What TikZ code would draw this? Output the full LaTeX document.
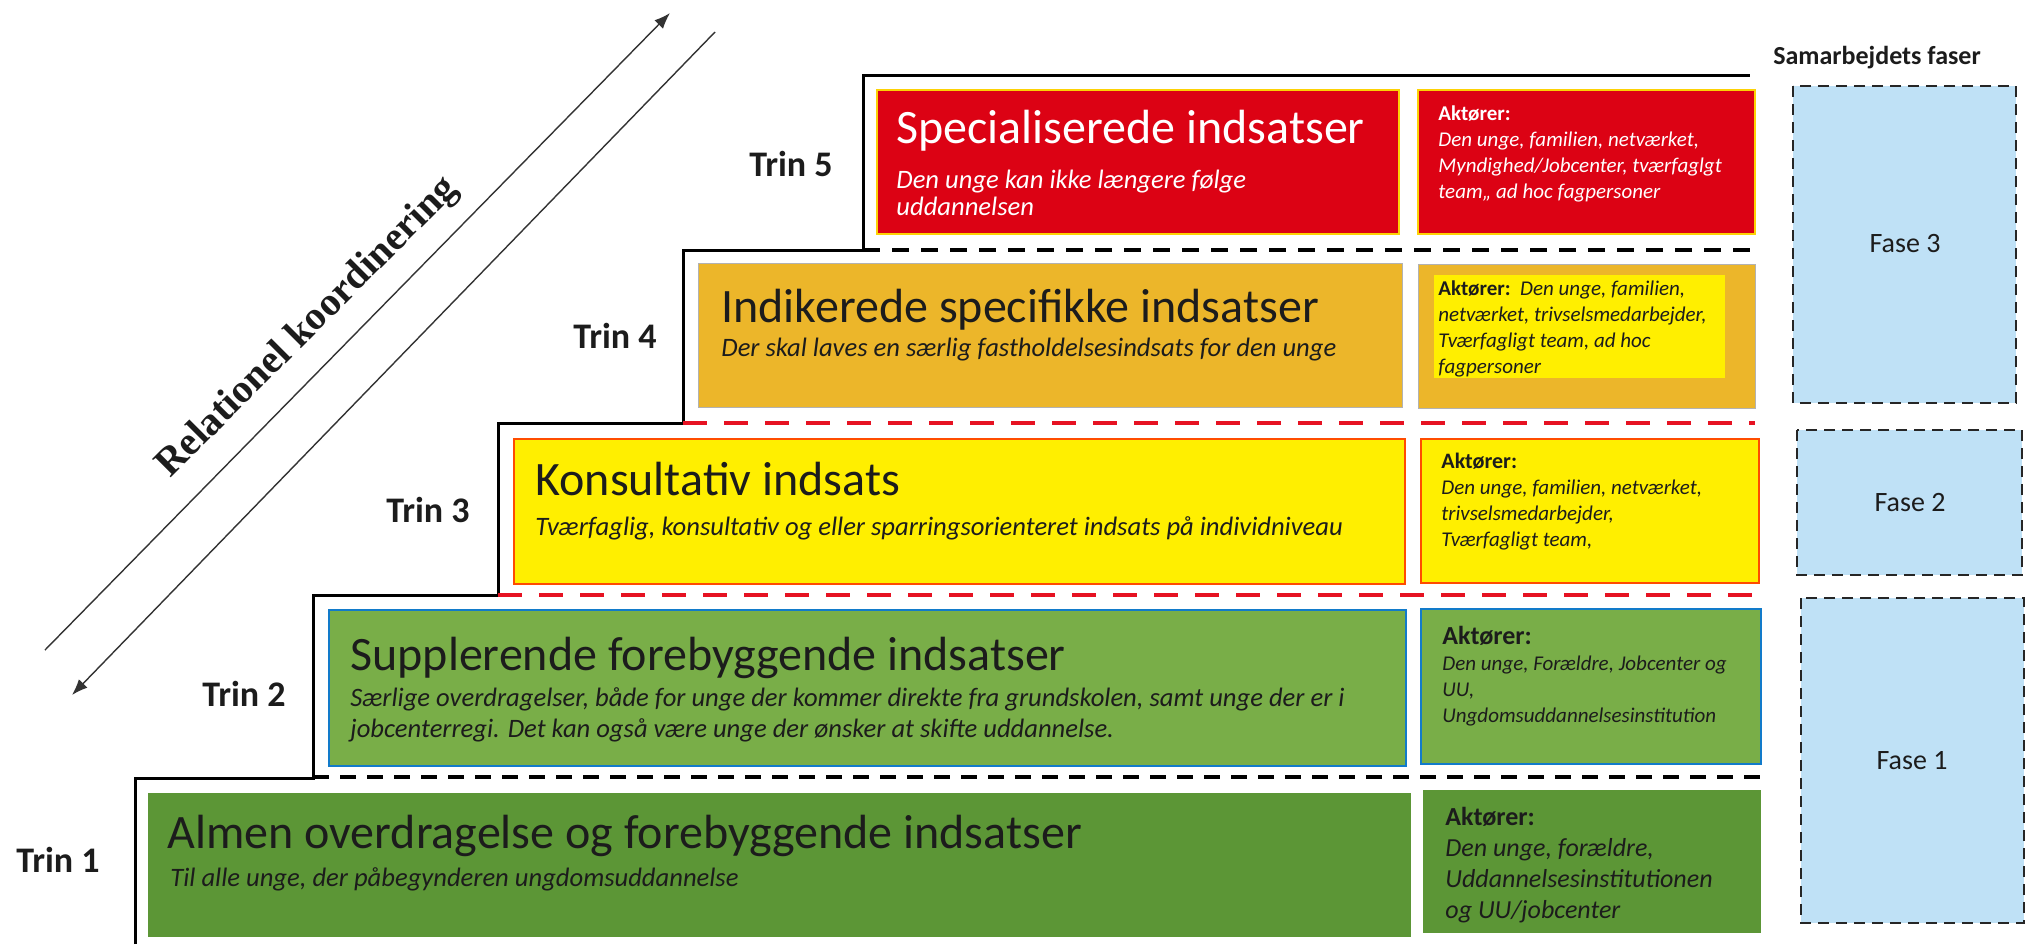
\documentclass[tikz,border=0pt]{standalone}
\usepackage{fontspec}
\setmainfont{Carlito}
\newfontfamily\rkserif{Liberation Serif}
\usetikzlibrary{arrows.meta}

\definecolor{trinred}{RGB}{220,2,20}
\definecolor{trinorange}{RGB}{236,182,42}
\definecolor{trinyellow}{RGB}{255,239,0}
\definecolor{tringreen}{RGB}{121,174,72}
\definecolor{trindark}{RGB}{92,150,54}
\definecolor{faseblue}{RGB}{191,225,246}
\definecolor{cutred}{RGB}{230,18,34}
\definecolor{inkgray}{RGB}{28,28,28}

\newcommand{\aktorer}{\textup{\bfseries Akt\o rer:}}

\tikzset{
	stairline/.style={line width=1.5pt, line join=miter},
	blackcut/.style={line width=2pt, dash pattern=on 8.5pt off 6pt},
	redcut/.style={cutred, line width=2.2pt, dash pattern=on 12pt off 8.5pt},
	fasebox/.style={fill=faseblue, draw=black!85, line width=1.1pt, dash pattern=on 5.5pt off 3.5pt},
	boxtitle/.style={anchor=base west, inner sep=0pt, text=inkgray, font=\fontsize{24}{28}\selectfont},
	boxsub/.style={anchor=base west, inner sep=0pt, align=left, text=inkgray, font=\fontsize{13.3}{16}\selectfont\itshape},
	actors/.style={anchor=base west, inner sep=0pt, align=left, text=inkgray, font=\fontsize{10.5}{13}\selectfont\itshape},
	trinlabel/.style={anchor=base, inner sep=0pt, text=inkgray, font=\fontsize{18}{20}\selectfont\bfseries},
	fasetext/.style={inner sep=0pt, text=inkgray, font=\fontsize{14}{16}\selectfont},
	rkarrow/.style={draw=black!80, line width=0.7pt, -{Latex[length=8pt,width=6pt]}}
}

\begin{document}
\begin{tikzpicture}[x=0.5pt,y=-0.5pt]
	\useasboundingbox (0,0) rectangle (2027,944);
	\fill[white] (0,0) rectangle (2027,944);

	\draw[stairline] (135,944) -- (135,778) -- (313,778) -- (313,595) -- (498,595) -- (498,423) -- (683,423) -- (683,250) -- (863,250) -- (863,75) -- (1750,75);
	\draw[blackcut] (863,250) -- (1755,250);
	\draw[redcut] (683,423) -- (1755,423);
	\draw[redcut] (498,595) -- (1759,595);
	\draw[blackcut, line width=1.6pt, dash pattern=on 8pt off 5.5pt] (313,777) -- (1761,777);

	\draw[fill=trinred, draw=yellow!70!orange, line width=0.8pt] (877,90) rectangle (1399,234);
	\draw[fill=trinred, draw=yellow!70!orange, line width=0.8pt] (1418,90) rectangle (1755,234);
	\draw[fill=trinorange, draw=black!30, line width=0.5pt] (698,263) rectangle (1402,407);
	\draw[fill=trinorange, draw=black!30, line width=0.5pt] (1418,264) rectangle (1755,408);
	\fill[trinyellow] (1434,275) rectangle (1725,378);
	\draw[fill=trinyellow, draw=orange!60!red, line width=0.8pt] (514,439) rectangle (1405,584);
	\draw[fill=trinyellow, draw=orange!60!red, line width=0.8pt] (1421,439) rectangle (1759,583);
	\draw[fill=tringreen, draw=cyan!60!blue, line width=0.8pt] (329,610) rectangle (1406,766);
	\draw[fill=tringreen, draw=cyan!60!blue, line width=0.8pt] (1421,609) rectangle (1761,764);
	\fill[trindark] (148,793) rectangle (1411,937);
	\fill[trindark] (1423,790) rectangle (1761,933);

	\draw[fasebox] (1793,86) rectangle (2016,403);
	\draw[fasebox] (1797,430) rectangle (2022,575);
	\draw[fasebox] (1801,598) rectangle (2024,923);

	\node[boxtitle, text=white] (title5) at (896,143) {Specialiserede indsatser};
	\node[boxsub, text=white, font=\fontsize{13.3}{13.5}\selectfont\itshape] (sub5) at (896,215) {Den unge kan ikke l\ae ngere f\o lge\\uddannelsen};
	\node[boxtitle] (title4) at (721,322) {Indikerede specifikke indsatser};
	\node[boxsub] (sub4) at (721,356) {Der skal laves en s\ae rlig fastholdelsesindsats for den unge};
	\node[boxtitle] (title3) at (535,495) {Konsultativ indsats};
	\node[boxsub] (sub3) at (535,535) {Tv\ae rfaglig, konsultativ og eller sparringsorienteret indsats p\aa{} individniveau};
	\node[boxtitle] (title2) at (350,670) {Supplerende forebyggende indsatser};
	\node[boxsub, font=\fontsize{13.3}{15.5}\selectfont\itshape] (sub2) at (350,737) {S\ae rlige overdragelser, b\aa de for unge der kommer direkte fra grundskolen, samt unge der er i\\jobcenterregi. Det kan ogs\aa{} v\ae re unge der \o nsker at skifte uddannelse.};
	\node[boxtitle] (title1) at (167,848) {Almen overdragelse og forebyggende indsatser};
	\node[boxsub] (sub1) at (170,886) {Til alle unge, der p\aa begynderen ungdomsuddannelse};

	\node[actors, text=white] (akt5) at (1438,198) {\aktorer\\Den unge, familien, netv\ae rket,\\Myndighed/Jobcenter, tv\ae rfaglgt\\team,, ad hoc fagpersoner};
	\node[actors] (akt4) at (1438,373) {\aktorer\ \ Den unge, familien,\\netv\ae rket, trivselsmedarbejder,\\Tv\ae rfagligt team, ad hoc\\fagpersoner};
	\node[actors] (akt3) at (1441,546) {{\fontsize{11}{13}\selectfont\aktorer}\\Den unge, familien, netv\ae rket,\\trivselsmedarbejder,\\Tv\ae rfagligt team,};
	\node[actors] (akt2) at (1442,722) {{\fontsize{13}{13}\selectfont\aktorer}\\Den unge, For\ae ldre, Jobcenter og\\UU,\\Ungdomsuddannelsesinstitution};
	\node[actors, font=\fontsize{13}{15.5}\selectfont\itshape] (akt1) at (1445,918) {\aktorer\\Den unge, for\ae ldre,\\Uddannelsesinstitutionen\\og UU/jobcenter};

	\node[trinlabel] (trin5) at (791,176) {Trin 5};
	\node[trinlabel] (trin4) at (615,348) {Trin 4};
	\node[trinlabel] (trin3) at (428,522) {Trin 3};
	\node[trinlabel] (trin2) at (244,706) {Trin 2};
	\node[trinlabel] (trin1) at (58,872) {Trin 1};

	\node[anchor=base, inner sep=0pt, text=inkgray, font=\fontsize{13}{14}\selectfont\bfseries] (faser) at (1877,64) {Samarbejdets faser};
	\node[fasetext] (fase3) at (1905,244) {Fase 3};
	\node[fasetext] (fase2) at (1910,503) {Fase 2};
	\node[fasetext] (fase1) at (1912,761) {Fase 1};

	\coordinate (rkup1) at (45,650);
	\coordinate (rkup2) at (670,13);
	\coordinate (rkdown1) at (715,32);
	\coordinate (rkdown2) at (72,695);
	\draw[rkarrow] (rkup1) -- (rkup2);
	\draw[rkarrow] (rkdown1) -- (rkdown2);
	\node[rotate=45, inner sep=0pt, text=inkgray, font=\rkserif\fontsize{20}{22}\selectfont\bfseries] (relkoord) at (308,328) {Relationel koordinering};
\end{tikzpicture}
\end{document}
